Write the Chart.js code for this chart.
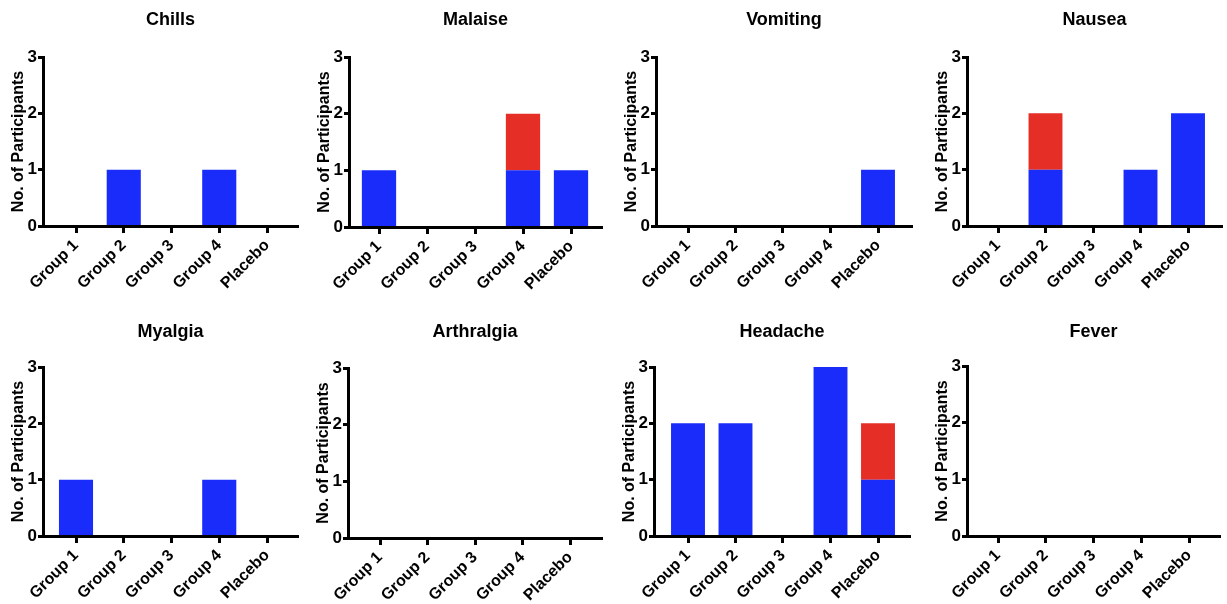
<!DOCTYPE html>
<html><head><meta charset="utf-8">
<script src="https://cdn.jsdelivr.net/npm/chart.js@4.4.1/dist/chart.umd.min.js"></script>
<style>
html,body{margin:0;padding:0;background:#fff;}
body{width:1227px;height:604px;overflow:hidden;position:relative;}
canvas{position:absolute;}
</style></head><body>
<script>
// ---- data ----
const categories = ['Group 1', 'Group 2', 'Group 3', 'Group 4', 'Placebo'];
const yTickValues = [0, 1, 2, 3];
const symptoms = ['Chills', 'Malaise', 'Vomiting', 'Nausea', 'Myalgia', 'Arthralgia', 'Headache', 'Fever'];
const seriesNames = ['Mild', 'Moderate'];

const chillsBlue     = [0, 1, 0, 1, 0];
const chillsRed      = [0, 0, 0, 0, 0];
const malaiseBlue    = [1, 0, 0, 1, 1];
const malaiseRed     = [0, 0, 0, 1, 0];
const vomitingBlue   = [0, 0, 0, 0, 1];
const vomitingRed    = [0, 0, 0, 0, 0];
const nauseaBlue     = [0, 1, 0, 1, 2];
const nauseaRed      = [0, 1, 0, 0, 0];
const myalgiaBlue    = [1, 0, 0, 1, 0];
const myalgiaRed     = [0, 0, 0, 0, 0];
const arthralgiaBlue = [0, 0, 0, 0, 0];
const arthralgiaRed  = [0, 0, 0, 0, 0];
const headacheBlue   = [2, 2, 0, 3, 1];
const headacheRed    = [0, 0, 0, 0, 1];
const feverBlue      = [0, 0, 0, 0, 0];
const feverRed       = [0, 0, 0, 0, 0];

const blueSeries = [chillsBlue, malaiseBlue, vomitingBlue, nauseaBlue, myalgiaBlue, arthralgiaBlue, headacheBlue, feverBlue];
const redSeries  = [chillsRed, malaiseRed, vomitingRed, nauseaRed, myalgiaRed, arthralgiaRed, headacheRed, feverRed];

// ---- layout (page pixels) ----
const panelLayout = [
  {axisX: 43,  endX: 298,  top: 57,  base: 226, t0: 76,  t4: 267,  row: 0},
  {axisX: 349, endX: 602,  top: 57,  base: 227, t0: 379, t4: 571,  row: 0},
  {axisX: 656, endX: 912,  top: 57,  base: 226, t0: 688, t4: 878,  row: 0},
  {axisX: 967, endX: 1222, top: 57,  base: 226, t0: 998, t4: 1188, row: 0},
  {axisX: 43,  endX: 298,  top: 367, base: 536, t0: 76,  t4: 267,  row: 1},
  {axisX: 348, endX: 602,  top: 368, base: 538, t0: 380, t4: 570,  row: 1},
  {axisX: 654, endX: 910,  top: 367, base: 536, t0: 688, t4: 878,  row: 1},
  {axisX: 967, endX: 1220, top: 366, base: 536, t0: 998, t4: 1189, row: 1}
];
const BLUE = 'rgb(26,44,250)';
const RED = 'rgb(228,46,38)';

Chart.defaults.font.family = '"Liberation Sans", Arial, Helvetica, sans-serif';
Chart.defaults.font.weight = 'bold';
Chart.defaults.color = '#000';

symptoms.forEach((name, p) => {
  const L = panelLayout[p];
  const rowTop = L.row === 0 ? 0 : 300;
  const canvasH = L.row === 0 ? 300 : 304;
  const left = L.axisX - 43;
  const width = L.endX - left + 3;
  const cv = document.createElement('canvas');
  cv.width = width; cv.height = canvasH;
  cv.style.left = left + 'px'; cv.style.top = rowTop + 'px';
  cv.style.width = width + 'px'; cv.style.height = canvasH + 'px';
  document.body.appendChild(cv);

  const spacing = (L.t4 - L.t0) / 4;
  const xMin = -(L.t0 - L.axisX) / spacing;
  const xMax = 4 + (L.endX - L.t4) / spacing;
  const areaTop = L.top - rowTop;
  const titleCenter = L.row === 0 ? 20 : 32;
  const titleLH = 18 * 1.2;
  const tPadTop = titleCenter - titleLH / 2;
  const tPadBottom = areaTop - tPadTop - titleLH;
  const xHeight = canvasH - (L.base - rowTop);

  new Chart(cv, {
    type: 'bar',
    data: {
      datasets: [
        {label: seriesNames[0], data: blueSeries[p].map((v, i) => ({x: i, y: v})), backgroundColor: BLUE},
        {label: seriesNames[1], data: redSeries[p].map((v, i) => ({x: i, y: v})), backgroundColor: RED}
      ]
    },
    options: {
      responsive: false,
      animation: false,
      devicePixelRatio: 1,
      layout: {padding: {left: 0, right: 3, top: 0, bottom: 0}},
      datasets: {bar: {barPercentage: 0.714, categoryPercentage: 1, borderWidth: 0}},
      plugins: {
        legend: {display: false},
        tooltip: {enabled: false},
        title: {
          display: true, text: name, fullSize: false, color: '#000',
          font: {size: 18, weight: 'bold'},
          padding: {top: tPadTop, bottom: tPadBottom}
        }
      },
      scales: {
        x: {
          type: 'linear', min: xMin, max: xMax, stacked: true, offset: false,
          afterBuildTicks: s => { s.ticks = categories.map((c, i) => ({value: i})); },
          afterFit: s => { s.height = xHeight; },
          ticks: {
            autoSkip: false, maxRotation: 45, minRotation: 45, padding: 3,
            font: {size: 16, weight: 'bold'}, color: '#000',
            callback: v => categories[v]
          },
          grid: {offset: false, drawOnChartArea: false, drawTicks: true, tickLength: 7, tickWidth: 3, color: '#000'},
          border: {display: true, width: 3, color: '#000', z: 1}
        },
        y: {
          min: 0, max: 3, stacked: true,
          afterBuildTicks: s => { s.ticks = yTickValues.map(v => ({value: v})); },
          afterFit: s => { s.width = 43; },
          ticks: {padding: 1, font: {size: 17, weight: 'bold'}, color: '#000'},
          grid: {offset: false, drawOnChartArea: false, drawTicks: true, tickLength: 5, tickWidth: 3, color: '#000'},
          border: {display: true, width: 3, color: '#000', z: 1},
          title: {
            display: true, text: 'No. of Participants', color: '#000',
            font: {size: 16, weight: 'bold'}, padding: {top: 8.5, bottom: 0}
          }
        }
      }
    }
  });
});
</script>
</body></html>
